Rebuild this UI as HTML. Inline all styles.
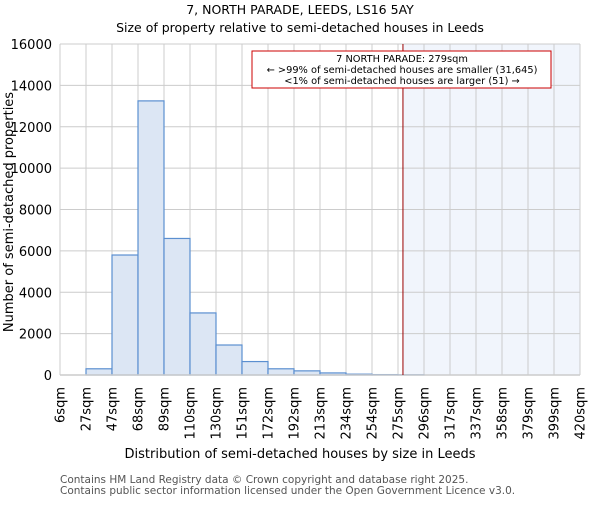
<!DOCTYPE html>
<html><head><meta charset="utf-8"><style>
body{margin:0;background:#fff;}
svg{font-family:"DejaVu Sans","Liberation Sans",sans-serif;}
</style></head><body>
<svg id="chart" width="600" height="500" xmlns="http://www.w3.org/2000/svg">
<text x="300" y="14" text-anchor="middle" font-size="12.5">7, NORTH PARADE, LEEDS, LS16 5AY</text>
<text x="300" y="32" text-anchor="middle" font-size="12.5">Size of property relative to semi-detached houses in Leeds</text>
<g id="grid"></g><g id="bars"></g><g id="axes"></g>
<text x="300" y="458" text-anchor="middle" font-size="13">Distribution of semi-detached houses by size in Leeds</text>
<text transform="translate(13,212) rotate(-90)" text-anchor="middle" font-size="13">Number of semi-detached properties</text>
<text x="60" y="483" font-size="10.5" fill="#555">Contains HM Land Registry data © Crown copyright and database right 2025.</text>
<text x="60" y="494" font-size="10.5" fill="#555">Contains public sector information licensed under the Open Government Licence v3.0.</text>
</svg>
<script>
const categories=["6sqm","27sqm","47sqm","68sqm","89sqm","110sqm","130sqm","151sqm","172sqm","192sqm","213sqm","234sqm","254sqm","275sqm","296sqm","317sqm","337sqm","358sqm","379sqm","399sqm","420sqm"];
const counts=[0,300,5800,13250,6600,3000,1450,650,300,200,100,40,20,10,0,0,0,0,0,0];
const yTicks=[0,2000,4000,6000,8000,10000,12000,14000,16000];
const propertySize=279;
const binEdges=[6,27,47,68,89,110,130,151,172,192,213,234,254,275,296,317,337,358,379,399,420];
const L=60,R=580,T=44,B=375,yMax=16000;
const NS="http://www.w3.org/2000/svg";
const bw=(R-L)/(categories.length-1);
function xs(i){return L+i*bw;}
function ys(v){return B-v/yMax*(B-T);}
function xv(v){for(let i=0;i<binEdges.length-1;i++){if(v<=binEdges[i+1])return xs(i)+(v-binEdges[i])/(binEdges[i+1]-binEdges[i])*bw;}return R;}
function mk(tag,attrs,parent){const e=document.createElementNS(NS,tag);for(const k in attrs)e.setAttribute(k,attrs[k]);parent.appendChild(e);return e;}
const grid=document.getElementById('grid'),bars=document.getElementById('bars'),axes=document.getElementById('axes');
const px=xv(propertySize);
let sh=mk('rect',{x:px,y:T,width:R-px,height:B-T,fill:'#eef3fb',opacity:0.8},grid);


yTicks.forEach(v=>{
 let l=mk('line',{x1:L,x2:R,y1:ys(v),y2:ys(v),stroke:'#cccccc','stroke-width':1},grid);
 
 
 let t=mk('text',{x:L-8,y:ys(v)+5,'text-anchor':'end','font-size':'13'},axes);
 t.textContent=v;
 
 
});
categories.forEach((c,i)=>{
 let l=mk('line',{x1:xs(i),x2:xs(i),y1:T,y2:B,stroke:'#cccccc','stroke-width':1},grid);
 
 
 let t=mk('text',{transform:`translate(${xs(i)+4.5},${B+12}) rotate(-90)`,'text-anchor':'end','font-size':'13'},axes);
 t.textContent=c;
 
 
});
counts.forEach((v,i)=>{
 if(v<=0)return;
 let r=mk('rect',{x:xs(i),y:ys(v),width:bw,height:B-ys(v),fill:'#dce6f4',stroke:'#5b8fd0','stroke-width':1.2},bars);
 
 
});
let bl=mk('line',{x1:L,x2:R,y1:B,y2:B,stroke:'#cccccc','stroke-width':1.5},axes);


let ml=mk('line',{x1:px,x2:px,y1:T,y2:B,stroke:'#990000','stroke-width':1},axes);


let g=mk('g',{},axes);


mk('rect',{x:252,y:51,width:299,height:37,fill:'#fff',stroke:'#cc0000','stroke-width':1},g);
[["7 NORTH PARADE: 279sqm",62],["← >99% of semi-detached houses are smaller (31,645)",73],["<1% of semi-detached houses are larger (51) →",84]].forEach(([s,y])=>{
 let t=mk('text',{x:402,y:y,'text-anchor':'middle','font-size':'9.8'},g);
 t.textContent=s;
 
 
});
</script>
</body></html>
